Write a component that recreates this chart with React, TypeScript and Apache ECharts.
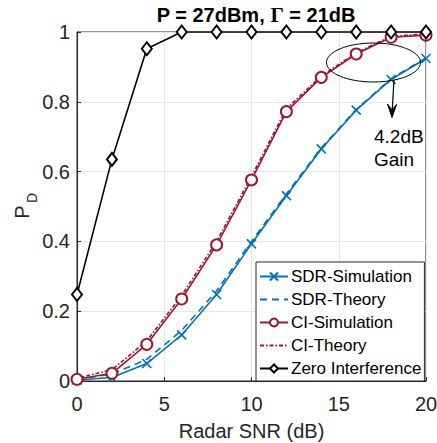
import React, { useEffect, useRef } from "react";
import * as echarts from "echarts";

const snr = [0, 2, 4, 6, 8, 10, 12, 14, 16, 18, 20];
const sdrSim = [0.003, 0.01, 0.05, 0.132, 0.248, 0.393, 0.531, 0.665, 0.776, 0.864, 0.924];
const sdrTheory = [0.005, 0.02, 0.062, 0.145, 0.258, 0.4, 0.536, 0.668, 0.778, 0.866, 0.926];
const ciSim = [0.005, 0.022, 0.105, 0.235, 0.39, 0.576, 0.772, 0.87, 0.937, 0.985, 0.991];
const ciTheory = [0.008, 0.032, 0.115, 0.245, 0.4, 0.586, 0.78, 0.874, 0.94, 0.988, 0.994];
const zeroInt = [0.248, 0.635, 0.952, 1, 1, 1, 1, 1, 1, 1, 1];
const xTicks = [0, 5, 10, 15, 20];
const yTicks = [0, 0.2, 0.4, 0.6, 0.8, 1];

const FONT = "'Liberation Sans', Arial, Helvetica, sans-serif";
const BLUE = "#0072BD";
const RED = "#A2142F";
const AX = "#262626";

const pairs = (ys: number[]) => snr.map((x, i) => [x, ys[i]]);

export default function App() {
  const ref = useRef<HTMLDivElement>(null);
  useEffect(() => {
    const chart = echarts.init(ref.current!, undefined, { renderer: "svg" });
    const crossSym = "path://M0,0L10,10M10,0L0,10";
    chart.setOption({
      animation: false,
      backgroundColor: "#fff",
      title: {
        text: "{a|P = 27dBm, }{g|Γ}{a| = 21dB}",
        left: 251,
        top: -1,
        textAlign: "center",
        textStyle: {
          rich: {
            a: { fontFamily: FONT, fontSize: 20, fontWeight: "bold", color: "#000" },
            g: { fontFamily: "'Liberation Serif', 'DejaVu Serif', serif", fontSize: 21, color: "#000" },
          },
        },
      },
      grid: {
        left: 77,
        right: 11,
        top: 32,
        bottom: 62,
        containLabel: false,
        outerBoundsMode: "none",
        show: true,
        borderColor: AX,
        borderWidth: 1,
        backgroundColor: "transparent",
      },
      legend: {
        orient: "vertical",
        left: 256,
        top: 262,
        itemWidth: 28,
        itemHeight: 10,
        itemGap: 6,
        padding: [6, 3, 4, 3],
        backgroundColor: "#fff",
        borderColor: AX,
        borderWidth: 1,
        textStyle: { fontFamily: FONT, fontSize: 17, color: "#000", padding: [0, 0, 0, -2] },
        data: [
          { name: "SDR-Simulation" },
          { name: "SDR-Theory", itemStyle: { opacity: 0 } },
          { name: "CI-Simulation" },
          { name: "CI-Theory", itemStyle: { opacity: 0 } },
          { name: "Zero Interference" },
        ],
      },
      xAxis: {
        type: "value",
        min: 0,
        max: 20,
        interval: 5,
        name: "Radar SNR (dB)",
        nameLocation: "middle",
        nameGap: 40,
        nameTextStyle: { fontFamily: FONT, fontSize: 20, color: AX },
        axisLine: { show: true, lineStyle: { color: AX } },
        axisTick: { show: true, inside: true, length: 4, lineStyle: { color: AX } },
        axisLabel: {
          fontFamily: FONT,
          fontSize: 20,
          color: AX,
          margin: 13,
          formatter: (v: number) => (xTicks.includes(v) ? String(v) : ""),
        },
        splitLine: { show: true, lineStyle: { color: "#e6e6e6", width: 1 } },
      },
      yAxis: {
        type: "value",
        min: 0,
        max: 1,
        interval: 0.2,
        axisLine: { show: true, lineStyle: { color: AX } },
        axisTick: { show: true, inside: true, length: 4, lineStyle: { color: AX } },
        axisLabel: {
          fontFamily: FONT,
          fontSize: 20,
          color: AX,
          margin: 7,
          formatter: (v: number) => {
            const t = yTicks.find((y) => Math.abs(y - v) < 1e-9);
            return t === undefined ? "" : String(Math.round(t * 10) / 10);
          },
        },
        splitLine: { show: true, lineStyle: { color: "#e6e6e6", width: 1 } },
      },
      series: [
        {
          name: "SDR-Simulation",
          type: "line",
          data: pairs(sdrSim),
          symbol: crossSym,
          symbolSize: 9,
          lineStyle: { color: BLUE, width: 1.6 },
          itemStyle: { color: "transparent", borderColor: BLUE, borderWidth: 1.6 },
          z: 3,
        },
        {
          name: "SDR-Theory",
          type: "line",
          data: pairs(sdrTheory),
          symbol: "none",
          lineStyle: { color: BLUE, width: 1.6, type: [7, 5] },
          itemStyle: { color: BLUE },
          z: 2,
        },
        {
          name: "CI-Simulation",
          type: "line",
          data: pairs(ciSim),
          symbol: "emptyCircle",
          symbolSize: 11,
          lineStyle: { color: RED, width: 1.6 },
          itemStyle: { color: RED, borderColor: RED, borderWidth: 1.6 },
          z: 3,
        },
        {
          name: "CI-Theory",
          type: "line",
          data: pairs(ciTheory),
          symbol: "none",
          lineStyle: { color: RED, width: 1.6, type: [4, 2, 1.5, 2] },
          itemStyle: { color: RED },
          z: 2,
        },
        {
          name: "Zero Interference",
          type: "line",
          data: pairs(zeroInt),
          symbol: "emptyDiamond",
          symbolSize: [10, 13],
          lineStyle: { color: "#000", width: 1.6 },
          itemStyle: { color: "#000", borderColor: "#000", borderWidth: 1.6 },
          z: 4,
        },
      ],
      graphic: [
        {
          type: "group",
          x: 22,
          y: 205,
          rotation: Math.PI / 2,
          children: [
            {
              type: "text",
              x: -7,
              y: 0,
              style: { text: "P", font: `20px ${FONT}`, fill: AX, align: "center", verticalAlign: "middle" },
            },
            {
              type: "text",
              x: 7,
              y: 10,
              style: { text: "D", font: `14px ${FONT}`, fill: AX, align: "center", verticalAlign: "middle" },
            },
          ],
        },
        {
          type: "ellipse",
          shape: { cx: 373.5, cy: 62.5, rx: 47, ry: 19.5 },
          style: { fill: "none", stroke: "#000", lineWidth: 1 },
          z: 10,
        },
        {
          type: "line",
          shape: { x1: 394, y1: 80, x2: 392, y2: 114 },
          style: { stroke: "#000", lineWidth: 1.2 },
          z: 10,
        },
        {
          type: "polygon",
          shape: { points: [[387.5, 104], [392, 117.5], [396.5, 104.5], [392, 110]] },
          style: { fill: "#000", stroke: "#000", lineWidth: 1 },
          z: 10,
        },
        {
          type: "text",
          x: 374,
          y: 125,
          style: { text: "4.2dB\nGain", font: `19px ${FONT}`, fill: "#000", lineHeight: 23, align: "left" },
          z: 10,
        },
      ],
    });
    return () => chart.dispose();
  }, []);
  return <div ref={ref} style={{ position: "fixed", left: 0, top: 0, width: 437, height: 443 }} />;
}
